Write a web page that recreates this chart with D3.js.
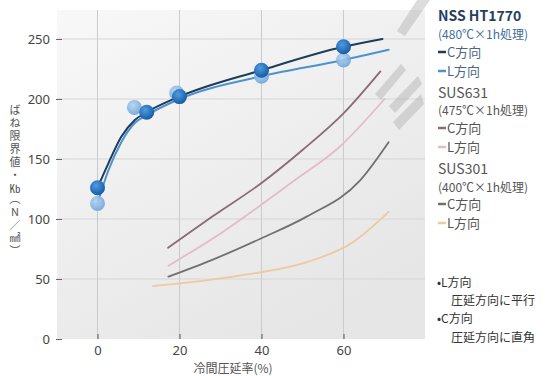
<!DOCTYPE html>
<html>
<head>
<meta charset="utf-8">
<script src="https://cdn.jsdelivr.net/npm/d3@7"></script>
<style>
  body { margin: 0; background: #fff; }
  #chart { position: relative; width: 555px; height: 376px; }
  text { font-family: "Noto Sans CJK JP", "Noto Sans", sans-serif; }
  .ytitle {
    position: absolute;
    left: 8px;
    top: 104px;
    writing-mode: vertical-rl;
    text-orientation: upright;
    font-family: "Noto Sans CJK JP", sans-serif;
    font-size: 11px;
    line-height: 14px;
    letter-spacing: 2px;
    color: #555;
  }
  .ytitle .tcy { text-combine-upright: all; }
</style>
</head>
<body>
<div id="chart"></div>
<script>
// chart data
var xTicks = [0, 20, 40, 60];
var yTicks = [0, 50, 100, 150, 200, 250];

// NSS HT1770 - traced line points
var nssCx = [0, 2.6, 5.8, 9.1, 12, 20, 40, 60, 69.5];
var nssCy = [126, 146, 168.5, 182.5, 189, 202, 224, 243.5, 250];
var nssLx = [0, 2.6, 5.8, 9.1, 12, 20, 40, 60, 71];
var nssLy = [113, 140, 164, 180, 186.5, 200, 219, 232.5, 241];
// NSS HT1770 - measured points (markers)
var nssCMarkX = [0, 12, 20, 40, 60];
var nssCMarkY = [126, 189, 202, 224, 243.5];
var nssLMarkX = [0, 9, 19.3, 40, 60];
var nssLMarkY = [113, 193, 205, 219, 232.5];

// SUS631
var sus631Cx = [17.2, 28, 40, 50, 60, 69];
var sus631Cy = [76, 102, 130, 157.5, 188, 223];
var sus631Lx = [17.3, 30, 48, 59, 70];
var sus631Ly = [61, 88, 132, 160, 200];

// SUS301
var sus301Cx = [17.3, 28, 40, 51, 64, 71];
var sus301Cy = [52, 66, 84, 102, 132, 164];
var sus301Lx = [13.5, 35, 51, 62, 71];
var sus301Ly = [44, 53, 64, 80, 106];

var svgWidth = 555;
var svgHeight = 376;

var svg = d3.select("#chart")
  .append("svg")
  .attr("width", svgWidth)
  .attr("height", svgHeight);

var defs = svg.append("defs");

var bgGrad = defs.append("linearGradient")
  .attr("id", "bg")
  .attr("x1", "0").attr("y1", "0")
  .attr("x2", "0.6").attr("y2", "1");
bgGrad.append("stop").attr("offset", "0%").attr("stop-color", "#f8f8f8");
bgGrad.append("stop").attr("offset", "100%").attr("stop-color", "#e6e6e6");

var darkDot = defs.append("radialGradient")
  .attr("id", "darkDot")
  .attr("cx", "40%").attr("cy", "35%").attr("r", "65%");
darkDot.append("stop").attr("offset", "0%").attr("stop-color", "#4f9be0");
darkDot.append("stop").attr("offset", "100%").attr("stop-color", "#155da6");

var lightDot = defs.append("radialGradient")
  .attr("id", "lightDot")
  .attr("cx", "40%").attr("cy", "35%").attr("r", "65%");
lightDot.append("stop").attr("offset", "0%").attr("stop-color", "#b4d3f0");
lightDot.append("stop").attr("offset", "100%").attr("stop-color", "#6fa5d9");

// plot panel
var panel = { left: 57, right: 425, top: 10, bottom: 339 };

var x = d3.scaleLinear().domain([0, 20]).range([97.5, 179.5]);
var y = d3.scaleLinear().domain([0, 250]).range([339, 39]);

svg.append("rect")
  .attr("x", panel.left)
  .attr("y", panel.top)
  .attr("width", panel.right - panel.left)
  .attr("height", panel.bottom - panel.top)
  .attr("fill", "url(#bg)");

// grid
svg.append("g").selectAll("line")
  .data(yTicks.filter(d => d > 0))
  .enter()
  .append("line")
  .attr("x1", panel.left)
  .attr("x2", panel.right)
  .attr("y1", d => y(d))
  .attr("y2", d => y(d))
  .attr("stroke", "#d6d6d6")
  .attr("stroke-width", 1.2);

svg.append("g").selectAll("line")
  .data(xTicks)
  .enter()
  .append("line")
  .attr("x1", d => x(d))
  .attr("x2", d => x(d))
  .attr("y1", panel.top)
  .attr("y2", panel.bottom)
  .attr("stroke", "#cbcbcb")
  .attr("stroke-width", 1);

// watermark bars in the top right
var marks = svg.append("g").attr("fill", "#a9a9a9").attr("opacity", 0.4);
marks.append("polygon").attr("points", "417,0 430,0 405,36 397,31");
marks.append("polygon").attr("points", "401,64 406,70 381,100 375,94");
marks.append("polygon").attr("points", "418,76 422,84 395,113 389,106");
marks.append("polygon").attr("points", "421,94 424,104 399,130 393,122");

// y axis
var yAxis = svg.append("g")
  .attr("transform", `translate(${panel.left + 5}, 0)`)
  .call(d3.axisLeft(y).tickValues(yTicks).tickSize(6).tickPadding(6));
yAxis.select(".domain").remove();
yAxis.selectAll("line").attr("stroke", "#666");
yAxis.selectAll("text")
  .attr("fill", "#444")
  .style("font-size", "13px")
  .style("font-family", "'Noto Sans', sans-serif");

// x axis
var xAxis = svg.append("g")
  .attr("transform", `translate(0, ${panel.bottom})`)
  .call(d3.axisTop(x).tickValues(xTicks).tickSize(5).tickFormat(d3.format("d")));
xAxis.select(".domain").remove();
xAxis.selectAll("line").attr("stroke", "#555");
xAxis.selectAll("text")
  .attr("y", 16)
  .attr("dy", 0)
  .attr("fill", "#444")
  .style("font-size", "13px")
  .style("font-family", "'Noto Sans', sans-serif");

svg.append("text")
  .attr("x", 233)
  .attr("y", 373)
  .attr("text-anchor", "middle")
  .attr("fill", "#555")
  .style("font-size", "12px")
  .text("冷間圧延率(%)");

// y title, vertical Japanese (html overlay so it can use vertical writing)
var yTitle = d3.select("#chart").append("div").attr("class", "ytitle");
yTitle.append("span").text("ばね限界値・");
yTitle.append("span").attr("class", "tcy").text("Kb");
yTitle.append("span").text("（N／㎟）");

// series lines
var line = d3.line()
  .x(d => x(d[0]))
  .y(d => y(d[1]))
  .curve(d3.curveMonotoneX);

function pts(xs, ys) {
  return xs.map((v, i) => [v, ys[i]]);
}

var series = [
  { xs: sus301Lx, ys: sus301Ly, color: "#ecc9a0", w: 1.8 },
  { xs: sus301Cx, ys: sus301Cy, color: "#707070", w: 1.8 },
  { xs: sus631Lx, ys: sus631Ly, color: "#e2bcc9", w: 1.8 },
  { xs: sus631Cx, ys: sus631Cy, color: "#8b6a73", w: 1.8 },
  { xs: nssLx, ys: nssLy, color: "#4b93cf", w: 2 },
  { xs: nssCx, ys: nssCy, color: "#1f3b58", w: 2 }
];

svg.append("g").selectAll("path")
  .data(series)
  .enter()
  .append("path")
  .attr("d", d => line(pts(d.xs, d.ys)))
  .attr("fill", "none")
  .attr("stroke", d => d.color)
  .attr("stroke-width", d => d.w)
  .attr("stroke-linecap", "round");

// markers
svg.append("g").selectAll("circle")
  .data(pts(nssLMarkX, nssLMarkY))
  .enter()
  .append("circle")
  .attr("cx", d => x(d[0]))
  .attr("cy", d => y(d[1]))
  .attr("r", 7.5)
  .attr("fill", "url(#lightDot)")
  .attr("opacity", 0.9);

svg.append("g").selectAll("circle")
  .data(pts(nssCMarkX, nssCMarkY))
  .enter()
  .append("circle")
  .attr("cx", d => x(d[0]))
  .attr("cy", d => y(d[1]))
  .attr("r", 7.5)
  .attr("fill", "url(#darkDot)");

// legend
var legendX = 438;
var legend = svg.append("g");

var legendRows = [
  { t: "NSS HT1770", y: 21, size: 14, weight: "bold", color: "#243f62" },
  { t: "(480℃×1h処理)", y: 39, size: 12, color: "#3e6d99" },
  { t: "C方向", y: 57, size: 13, color: "#4a6784", mark: "#1f3b58" },
  { t: "L方向", y: 76, size: 13, color: "#4a6784", mark: "#4b93cf" },
  { t: "SUS631", y: 98, size: 14, color: "#555" },
  { t: "(475℃×1h処理)", y: 115, size: 12, color: "#555" },
  { t: "C方向", y: 133, size: 13, color: "#555", mark: "#8b6a73" },
  { t: "L方向", y: 152, size: 13, color: "#555", mark: "#e2bcc9" },
  { t: "SUS301", y: 174, size: 14, color: "#555" },
  { t: "(400℃×1h処理)", y: 192, size: 12, color: "#555" },
  { t: "C方向", y: 209, size: 13, color: "#555", mark: "#707070" },
  { t: "L方向", y: 228, size: 13, color: "#555", mark: "#ecc9a0" }
];

legendRows.forEach(function(r) {
  var tx = legendX;
  if (r.mark) {
    legend.append("line")
      .attr("x1", legendX)
      .attr("x2", legendX + 8)
      .attr("y1", r.y - 5)
      .attr("y2", r.y - 5)
      .attr("stroke", r.mark)
      .attr("stroke-width", 2.5);
    tx = legendX + 9;
  }
  legend.append("text")
    .attr("x", tx)
    .attr("y", r.y)
    .attr("fill", r.color)
    .style("font-size", r.size + "px")
    .style("font-weight", r.weight || "normal")
    .text(r.t);
});

// notes
var notes = [
  { t: "•L方向", x: 437, y: 287 },
  { t: "圧延方向に平行", x: 451, y: 305 },
  { t: "•C方向", x: 437, y: 323 },
  { t: "圧延方向に直角", x: 451, y: 342 }
];
svg.append("g").selectAll("text")
  .data(notes)
  .enter()
  .append("text")
  .attr("x", d => d.x)
  .attr("y", d => d.y)
  .attr("fill", "#333")
  .style("font-size", "12px")
  .text(d => d.t);
</script>
</body>
</html>
